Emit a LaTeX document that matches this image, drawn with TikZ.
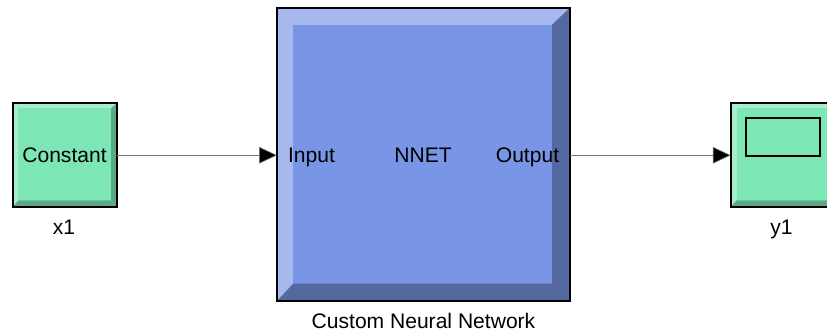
\documentclass[tikz,border=0pt]{standalone}
\usepackage{fontspec}
\setmainfont{Liberation Sans}
\usetikzlibrary{arrows.meta}
\definecolor{grnface}{HTML}{7CE6B4}
\definecolor{grnlight}{HTML}{A6EECB}
\definecolor{grndark}{HTML}{5CAA85}
\definecolor{bluface}{HTML}{7996E6}
\definecolor{blulight}{HTML}{A6B8EE}
\definecolor{bludark}{HTML}{55689F}
\tikzset{
  x=0.75pt,y=-0.75pt,
  blockbox/.style 2 args={draw=black,line width=1.5pt,minimum width=#1*0.75pt,minimum height=#2*0.75pt,inner sep=0pt,outer sep=0pt,anchor=north west},
  label/.style={font=\fontsize{15.8pt}{18pt}\selectfont,text=black,inner sep=0pt,anchor=base},
  wire/.style={draw=black!55,line width=0.5pt,-{Triangle[length=13.4pt,width=12.5pt,fill=black]}},
}
% \bevelbox{x0}{y0}{x1}{y1}{ix0}{iy0}{ix1}{iy1}{face}{light}{dark}
\newcommand{\bevelbox}[9]{%
  \def\bvA{#1}\def\bvB{#2}\def\bvC{#3}\def\bvD{#4}\def\bvE{#5}\def\bvF{#6}\def\bvG{#7}\def\bvH{#8}\def\bvI{#9}%
  \bevelboxrest}
\newcommand{\bevelboxrest}[2]{%
  \fill[#1] (\bvA,\bvB) rectangle (\bvC,\bvD);
  \fill[#2] (\bvC,\bvB) -- (\bvC,\bvD) -- (\bvA,\bvD) -- (\bvE,\bvH) -- (\bvG,\bvH) -- (\bvG,\bvF) -- cycle;
  \fill[\bvI] (\bvE,\bvF) rectangle (\bvG,\bvH);
}
\begin{document}
\begin{tikzpicture}
\useasboundingbox (0,0) rectangle (827,334);
\clip (0,0) rectangle (827,334);
\bevelbox{12.7}{103.5}{116.5}{207}{18.3}{108.5}{111}{200.5}{grnface}{grnlight}{grndark}
\node[blockbox={103.8}{103.5}] (const) at (12.7,103.5) {};
\node[label] (consttext) at (64.5,162.5) {Constant};
\node[label] (x1) at (64,235) {x1};

\bevelbox{277}{7.7}{570}{301}{293.3}{25}{551.7}{283.5}{bluface}{blulight}{bludark}
\node[blockbox={293}{293.3}] (nnet) at (277,7.7) {};
\node[label] (inp) at (311.5,162.5) {Input};
\node[label] (mid) at (423,162.5) {NNET};
\node[label] (out) at (527.5,162.5) {Output};
\node[label] (cap) at (423.5,328) {Custom Neural Network};

\bevelbox{730.7}{103.5}{834.5}{207}{736.5}{108.5}{829}{200.5}{grnface}{grnlight}{grndark}
\node[blockbox={103.8}{103.5}] (scope) at (730.7,103.5) {};
\node[draw=black,line width=1.5pt,anchor=north west,minimum width=74*0.75pt,minimum height=38*0.75pt,inner sep=0pt,outer sep=0pt] (screen) at (745.5,118.3) {};
\node[label] (y1) at (781.5,235) {y1};

\draw[wire] (const.east) -- (const.east -| nnet.west);
\draw[wire] (nnet.east |- scope.west) -- (scope.west);
\end{tikzpicture}
\end{document}
